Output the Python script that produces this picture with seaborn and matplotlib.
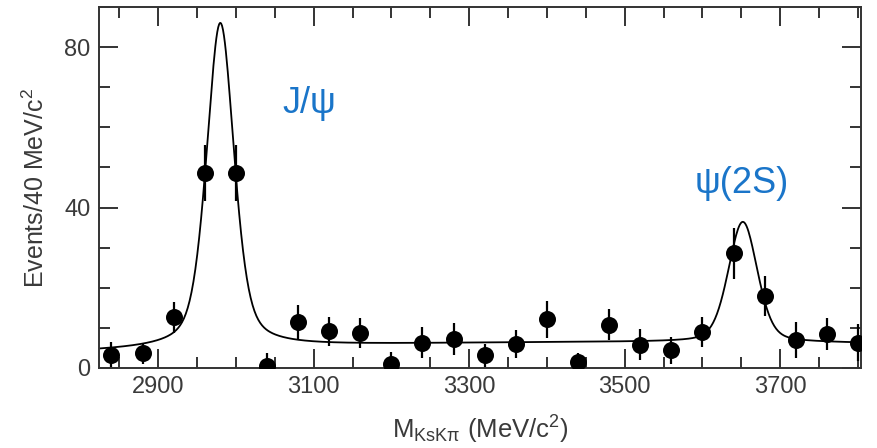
import numpy as np
import pandas as pd
import seaborn as sns
import matplotlib.pyplot as plt
from matplotlib.ticker import MultipleLocator

# Binned data (40 MeV/c^2 bins)
mass = [2840, 2880, 2920, 2960, 3000, 3040, 3080, 3120, 3160, 3200,
        3240, 3280, 3320, 3360, 3400, 3440, 3480, 3520, 3560, 3600,
        3640, 3680, 3720, 3760, 3800]
events = [3.2, 3.7, 12.6, 48.7, 48.7, 0.5, 11.5, 9.1, 8.7, 1.0,
          6.3, 7.2, 3.2, 5.9, 12.1, 1.5, 10.8, 5.8, 4.4, 9.0,
          28.6, 18.0, 7.0, 8.4, 6.3]
errors = [3.2, 2.6, 3.9, 7.0, 7.0, 3.2, 4.3, 3.7, 3.8, 3.0,
          3.9, 4.0, 2.9, 3.5, 4.5, 2.2, 3.8, 3.8, 3.3, 3.7,
          6.3, 5.0, 4.5, 4.0, 4.6]

# Fit parameters: pseudo-Voigt peaks on a smooth background
peak_mass = [2980, 3652]
peak_amp = [81.0, 30.0]
peak_hwhm = [21.0, 22.0]
peak_eta = [0.45, 0.30]
bg_coef = [4.3, 5.7, -3.8]  # quadratic in t = (m - 2840) / 960

labels = ["J/\u03c8", "\u03c8(2S)"]
label_pos = [(3095, 66), (3650, 46)]
label_color = "#1a75c9"


def fit_curve(m):
    t = (m - 2840) / 960
    y = bg_coef[0] + bg_coef[1] * t + bg_coef[2] * t ** 2
    for m0, a, h, eta in zip(peak_mass, peak_amp, peak_hwhm, peak_eta):
        d = (m - m0) / h
        y = y + a * ((1 - eta) * np.exp(-np.log(2) * d ** 2) + eta / (1 + d ** 2))
    return y


df = pd.DataFrame({"mass": mass, "events": events, "err": errors})
grid = np.linspace(2824, 3804, 800)
fit = pd.DataFrame({"mass": grid, "events": fit_curve(grid)})

sns.set_theme(style="ticks")
plt.rcParams["font.family"] = ["Liberation Sans", "DejaVu Sans"]
plt.rcParams["mathtext.default"] = "regular"

fig = plt.figure(figsize=(8.77, 4.48), dpi=100)
ax = fig.add_axes([0.1129, 0.1786, 0.8689, 0.8058])

text_color = "#3a3a3a"

sns.lineplot(data=fit, x="mass", y="events", ax=ax, color="black", linewidth=1.3)
ax.errorbar(df["mass"], df["events"], yerr=df["err"], fmt="none",
            ecolor="black", elinewidth=1.6, capsize=0)
sns.scatterplot(data=df, x="mass", y="events", ax=ax, color="black",
                s=150, edgecolor="black", linewidth=0, zorder=5)

for txt, (x, y) in zip(labels, label_pos):
    ax.text(x, y, txt, color=label_color, fontsize=26, ha="center", va="center")

ax.set_xlim(2824, 3804)
ax.set_ylim(0, 90)
ax.set_xticks([2900, 3100, 3300, 3500, 3700])
ax.xaxis.set_minor_locator(MultipleLocator(50))
ax.yaxis.set_major_locator(MultipleLocator(40))
ax.yaxis.set_minor_locator(MultipleLocator(10))

ax.tick_params(which="both", direction="in", top=True, right=True,
               color="#333333", width=1.4, labelsize=17, labelcolor=text_color,
               pad=6)
ax.tick_params(which="major", length=14)
ax.tick_params(which="minor", length=8)
for sp in ax.spines.values():
    sp.set_color("#333333")
    sp.set_linewidth(1.4)

ax.set_xlabel("M$_{KsK\\pi}$ (MeV/c$^{2}$)", fontsize=18.5, color=text_color, labelpad=11)
ax.set_ylabel("Events/40 MeV/c$^{2}$", fontsize=18, color=text_color, labelpad=11)

fig.savefig("out.png", dpi=100)
